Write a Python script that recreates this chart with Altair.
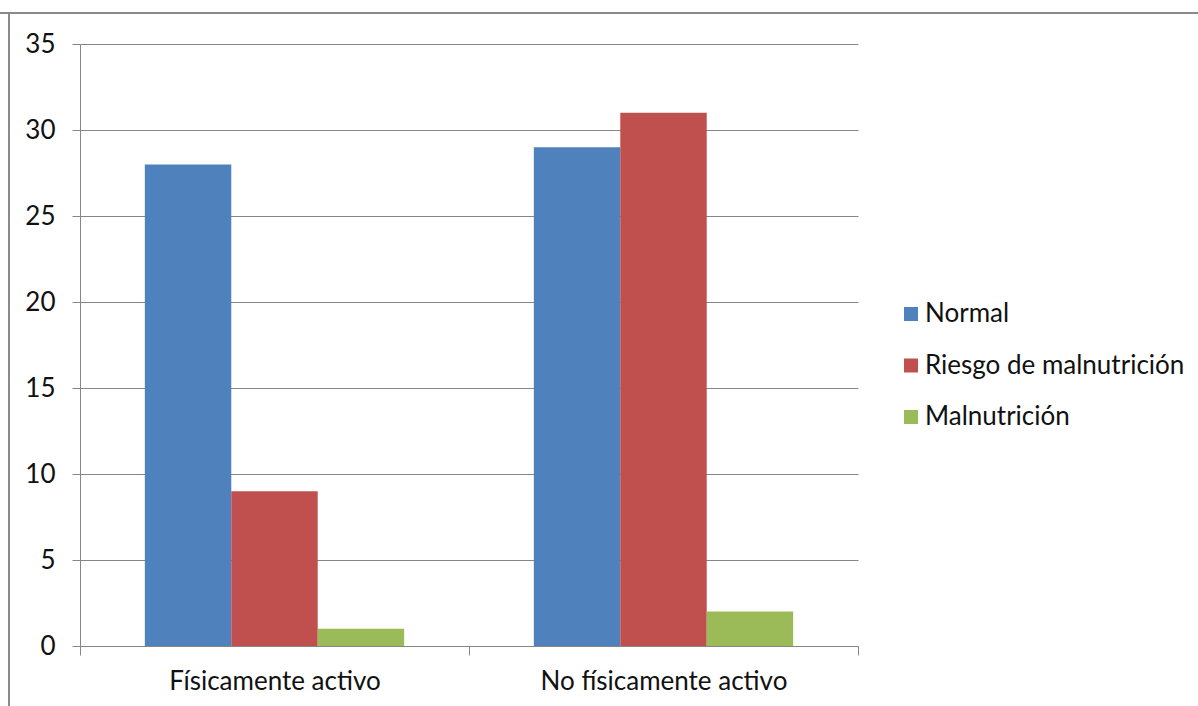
import altair as alt
import pandas as pd

# Grouped bar chart: nutritional status by physical activity
grupos = ["Físicamente activo", "No físicamente activo"]
series = ["Normal", "Riesgo de malnutrición", "Malnutrición"]
normal = [28, 29]
riesgo = [9, 31]
malnutricion = [1, 2]
colores = ["#4F81BD", "#C0504D", "#9BBB59"]
ticks_y = [0, 5, 10, 15, 20, 25, 30, 35]

rows = []
for serie, valores in zip(series, [normal, riesgo, malnutricion]):
    for grupo, valor in zip(grupos, valores):
        rows.append({"grupo": grupo, "serie": serie, "valor": valor})
df = pd.DataFrame(rows)

FONT = "Lato"
FS = 26
TXT = "#111111"
GRID = "#868686"
W, H = 778, 602

bars = alt.Chart(df).mark_bar().encode(
    x=alt.X(
        "grupo:N",
        sort=grupos,
        scale=alt.Scale(paddingInner=0, paddingOuter=0),
        axis=alt.Axis(
            title=None, labelAngle=0, tickBand="extent", tickSize=9,
            labelPadding=13, domainColor=GRID, tickColor=GRID,
            labelFont=FONT, labelFontSize=FS, labelColor=TXT, grid=False,
            labelLimit=0,
        ),
    ),
    xOffset=alt.XOffset(
        "serie:N", sort=series,
        scale=alt.Scale(paddingInner=0, paddingOuter=0.75),
    ),
    y=alt.Y(
        "valor:Q",
        scale=alt.Scale(domain=[0, 35], nice=False),
        axis=alt.Axis(
            title=None, values=ticks_y, tickSize=8, labelPadding=17,
            domainColor=GRID, tickColor=GRID, gridColor=GRID,
            labelFont=FONT, labelFontSize=FS, labelColor=TXT,
        ),
    ),
    color=alt.Color(
        "serie:N",
        sort=series,
        scale=alt.Scale(domain=series, range=colores),
        legend=alt.Legend(
            title=None, orient="none", legendX=818, legendY=257,
            symbolType="square", symbolSize=196, symbolStrokeWidth=0,
            labelFont=FONT, labelFontSize=FS, labelColor=TXT,
            labelOffset=1, rowPadding=25.5, padding=0, labelLimit=0,
        ),
    ),
)

# Outer chart frame (top and left edges)
frame_src = pd.DataFrame({"k": [0]})
frame_top = alt.Chart(frame_src).mark_rule(color="#8a8a8a", strokeWidth=2).encode(
    x=alt.value(-80), x2=alt.value(1118), y=alt.value(-31)
)
frame_left = alt.Chart(frame_src).mark_rule(color="#8a8a8a", strokeWidth=2).encode(
    x=alt.value(-71), y=alt.value(-31), y2=alt.value(662)
)

chart = alt.layer(bars, frame_top, frame_left).properties(
    width=W, height=H,
    autosize=alt.AutoSizeParams(type="none"),
    padding={"left": 80, "top": 44, "right": 340, "bottom": 60},
    background="white",
).configure_view(strokeWidth=0)

chart.save("out.html", embed_options={"renderer": "svg", "actions": False})
